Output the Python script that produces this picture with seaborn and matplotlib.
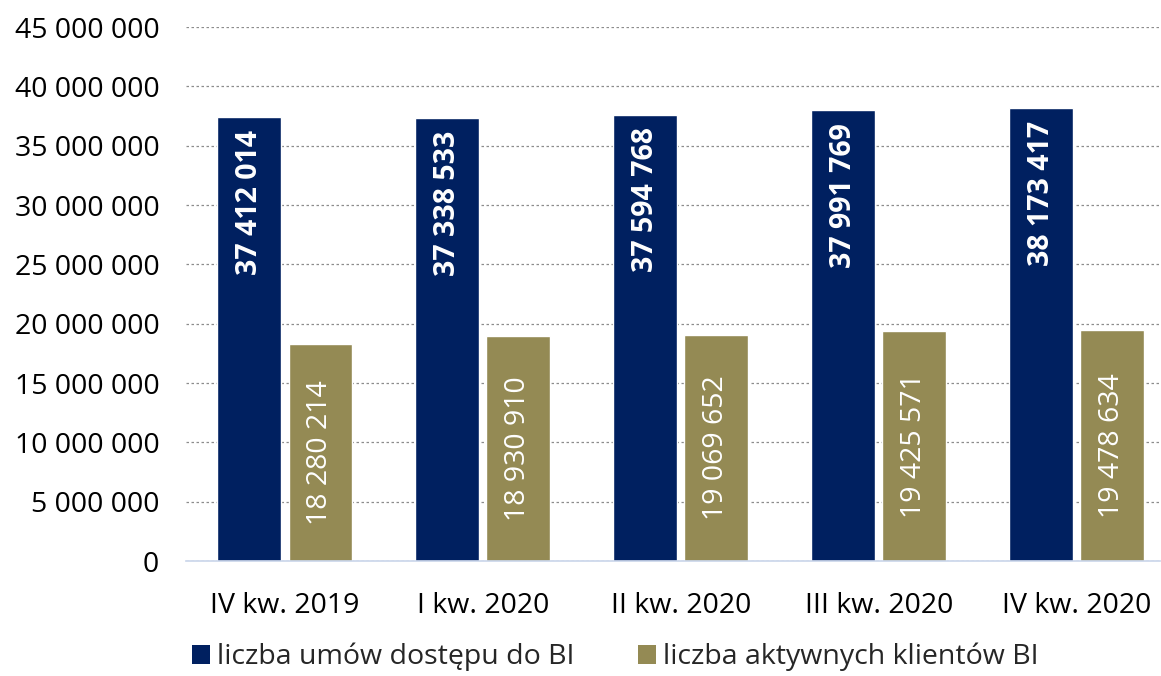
import matplotlib
matplotlib.use("Agg")
import matplotlib.pyplot as plt
import seaborn as sns
import pandas as pd
from matplotlib.ticker import FuncFormatter, MultipleLocator
from matplotlib.patches import Patch

categories = ["IV kw. 2019", "I kw. 2020", "II kw. 2020", "III kw. 2020", "IV kw. 2020"]
series_names = ["liczba umów dostępu do BI", "liczba aktywnych klientów BI"]
umowy = [37412014, 37338533, 37594768, 37991769, 38173417]
aktywni = [18280214, 18930910, 19069652, 19425571, 19478634]
colors = ["#002060", "#948A54"]

df = pd.DataFrame({
    "kw": categories * 2,
    "seria": [series_names[0]] * 5 + [series_names[1]] * 5,
    "val": umowy + aktywni,
})

sns.set_theme(style="white")
plt.rcParams["font.family"] = ["Open Sans", "DejaVu Sans"]

fig = plt.figure(figsize=(11.61, 6.76), dpi=100)
ax = fig.add_axes([0.160, 0.170, 0.839, 0.790])

sns.barplot(data=df, x="kw", y="val", hue="seria", palette=colors,
            order=categories, hue_order=series_names, width=0.72,
            saturation=1, ax=ax, legend=False, errorbar=None)

# shrink bars to leave a gap between the pair
bar_w = 0.322
for p in ax.patches:
    c = p.get_x() + p.get_width() / 2
    p.set_x(c - bar_w / 2)
    p.set_width(bar_w)

ax.set_ylim(0, 45000000)
ax.set_xlim(-0.5, 4.42)
ax.yaxis.set_major_locator(MultipleLocator(5000000))
ax.yaxis.set_major_formatter(FuncFormatter(lambda v, p: f"{int(v):,}".replace(",", " ")))
ax.grid(axis="y", linestyle=(0, (2, 2)), color="#8c8c8c", linewidth=0.9)
ax.set_axisbelow(True)
for s in ["top", "right", "left"]:
    ax.spines[s].set_visible(False)
ax.spines["bottom"].set_color("#c9d5ea")
ax.spines["bottom"].set_linewidth(1.2)
ax.tick_params(axis="both", length=0, labelsize=20.5, colors="black")
ax.tick_params(axis="x", pad=22)
ax.tick_params(axis="y", pad=19)
ax.set_xlabel("")
ax.set_ylabel("")

fmt = lambda v: f"{int(v):,}".replace(",", " ")
containers = ax.containers
ax.bar_label(containers[0], labels=[fmt(v) for v in umowy], label_type="edge",
             padding=-9, rotation=90, color="white", fontsize=20.5, fontweight="bold")
for t in ax.texts:
    t.set_va("top")
ax.bar_label(containers[1], labels=[fmt(v) for v in aktywni], label_type="center",
             rotation=90, color="white", fontsize=20.5)

handles = [Patch(facecolor=c, edgecolor="none") for c in colors]
fig.legend(handles, series_names, loc="center", bbox_to_anchor=(0.53, 0.028),
           ncol=2, frameon=False, fontsize=20.5, handlelength=0.65, handleheight=0.65,
           handletextpad=0.25, columnspacing=2.2, borderpad=0, borderaxespad=0)

fig.savefig("out.png", dpi=100)
